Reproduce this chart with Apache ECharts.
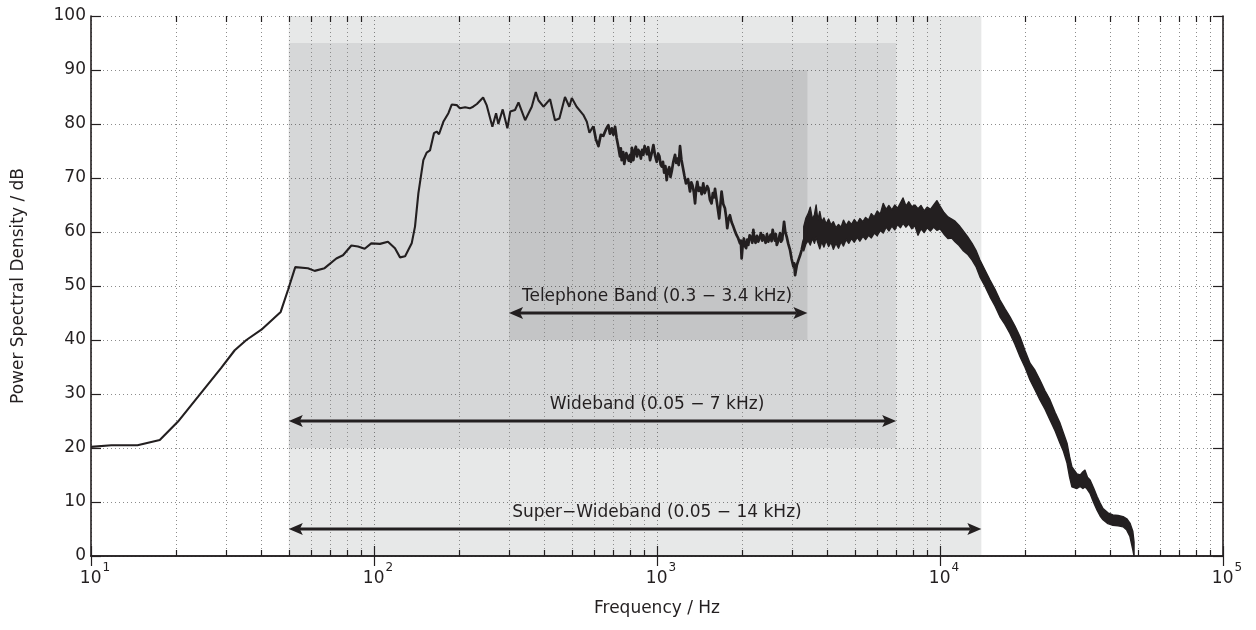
<!DOCTYPE html>
<html>
<head>
<meta charset="utf-8">
<script src="https://cdn.jsdelivr.net/npm/echarts@6/dist/echarts.min.js"></script>
<style>
  html, body { margin: 0; padding: 0; background: #ffffff; }
  #chart { width: 1256px; height: 630px; }
</style>
</head>
<body>
<div id="chart"></div>
<script>
// Speech power spectrum, [frequency Hz, level dB] (single trace up to ~3.4 kHz)
const psdCurve = [
  [10, 20.2], [11.8, 20.5], [14.6, 20.5], [17.5, 21.5], [20.3, 24.9], [23.9, 29.5],
  [28.8, 34.8], [32.2, 38.1], [35.4, 40.0], [40, 41.9], [46.8, 45.2], [49.7, 49.3],
  [52.7, 53.5], [58.4, 53.3], [61.7, 52.8], [66.9, 53.3], [73.6, 55.1], [77.7, 55.7],
  [83.2, 57.5], [87.8, 57.3], [92.7, 56.9], [97.8, 57.9], [105, 57.8], [112, 58.2],
  [118.6, 57.0], [123.6, 55.3], [128.8, 55.5], [135.9, 57.9], [139.6, 61.0], [143.5, 67.2],
  [149.4, 73.3], [153.5, 74.7], [157.7, 75.1], [162.9, 78.3], [166.5, 78.6], [169.7, 78.1],
  [175.8, 80.4], [183.2, 82.0], [188.2, 83.6], [196, 83.5], [201, 82.9], [210, 83.1],
  [218, 82.9], [224, 83.2], [231, 83.7], [243, 84.9], [250, 83.5], [262, 79.5],
  [270, 82.0], [275, 80.0], [285, 82.7], [296, 79.2], [303, 82.3], [315, 82.6],
  [324, 84.0], [342, 80.7], [361, 83.2], [373, 85.9], [381, 84.4], [397, 83.2],
  [419, 84.6], [436, 80.7], [452, 81.0], [473, 85.0], [490, 83.2], [500, 84.8],
  [520, 83.2], [549, 81.7], [565, 80.4], [577, 78.4], [596, 79.6],
  [608, 77.2], [621, 75.9], [633, 78.0], [646, 77.8], [660, 79.0], [673, 79.8],
  [682, 78.2], [692, 79.2], [701, 78.0], [711, 79.5], [720, 77.4], [730, 75.8],
  [740, 74.0], [745, 75.5], [750, 73.3], [760, 74.8], [766, 72.6], [771, 72.4],
  [779, 74.6], [787, 74.9], [795, 73.2], [803, 74.3], [809, 73.0], [815, 75.6],
  [825, 73.3], [833, 75.0], [842, 75.8], [850, 74.0], [859, 75.2], [868, 74.8],
  [877, 73.6], [886, 75.2], [895, 74.3], [904, 75.9], [913, 76.0], [922, 74.4],
  [931, 75.7], [945, 73.3], [958, 74.6], [971, 76.1], [984, 74.2], [998, 73.0],
  [1010, 74.5], [1020, 74.0], [1030, 72.5], [1040, 72.1], [1050, 73.0], [1060, 71.0],
  [1071, 72.2], [1082, 69.6], [1093, 71.4], [1105, 72.0], [1116, 70.2], [1127, 71.2],
  [1142, 73.0], [1158, 74.3], [1169, 72.8], [1180, 73.6], [1193, 72.4], [1206, 75.9],
  [1220, 73.4], [1233, 72.1], [1250, 70.4], [1266, 69.0], [1287, 69.8], [1308, 67.5],
  [1322, 69.2], [1335, 68.6], [1349, 67.4], [1363, 65.3], [1375, 68.0], [1388, 69.3],
  [1404, 67.6], [1420, 68.2], [1438, 67.0], [1457, 69.0], [1474, 67.2], [1490, 67.0],
  [1504, 68.5], [1518, 68.1], [1538, 66.0], [1559, 65.3], [1575, 67.2], [1590, 66.4],
  [1603, 68.0], [1615, 67.8], [1637, 64.6], [1659, 62.5], [1675, 65.0], [1691, 67.5],
  [1714, 65.2], [1738, 64.4], [1755, 62.8], [1771, 60.7], [1790, 62.4], [1810, 63.1],
  [1835, 61.8], [1861, 61.0], [1885, 60.2], [1911, 59.4], [1937, 58.8], [1964, 57.9],
  [1978, 58.4], [1991, 55.1], [2010, 57.8], [2028, 58.8], [2046, 57.4], [2065, 57.0],
  [2084, 58.6], [2102, 57.6], [2125, 59.4], [2150, 59.0], [2170, 58.0], [2190, 60.4],
  [2210, 58.6], [2230, 58.0], [2255, 59.3], [2280, 58.2], [2305, 59.0], [2330, 59.8],
  [2352, 58.4], [2375, 59.4], [2398, 58.7], [2420, 58.0], [2447, 59.6], [2474, 58.2],
  [2497, 58.9], [2520, 59.5], [2541, 58.3], [2563, 60.4], [2587, 59.2], [2610, 58.4],
  [2630, 59.6], [2650, 57.6], [2685, 58.4], [2722, 59.8], [2745, 58.2], [2770, 58.6],
  [2790, 60.2], [2812, 61.9], [2840, 60.0], [2873, 59.1], [2910, 57.8], [2951, 56.7],
  [2990, 55.0], [3033, 53.6], [3055, 54.2], [3076, 52.0], [3118, 53.8], [3160, 54.8],
  [3200, 55.6], [3246, 56.7], [3290, 58.2], [3336, 59.1], [3380, 60.8], [3426, 62.8]
];

// Dense high-frequency part as an envelope: [frequency Hz, lower dB, upper dB]
const hfBand = [
  [3300, 56.5, 61.0], [3360, 57.8, 62.6], [3420, 58.4, 63.4], [3480, 57.6, 64.6],
  [3540, 58.8, 62.4], [3600, 57.9, 63.2], [3650, 59.0, 65.0], [3700, 58.0, 62.2],
  [3760, 56.9, 63.8], [3820, 58.2, 61.9], [3890, 57.2, 62.6], [3960, 58.4, 61.5],
  [4040, 57.3, 62.4], [4120, 58.1, 61.3], [4200, 56.8, 61.9], [4290, 57.9, 60.8],
  [4380, 57.0, 61.4], [4470, 58.2, 60.9], [4560, 57.4, 62.2], [4660, 58.6, 61.2],
  [4760, 57.9, 62.0], [4870, 58.8, 61.4], [4980, 58.1, 62.3], [5100, 59.0, 61.6],
  [5210, 58.3, 62.5], [5340, 59.2, 61.9], [5460, 58.6, 62.7], [5590, 59.4, 62.2],
  [5720, 58.9, 63.4], [5860, 59.8, 62.8], [6000, 59.3, 63.9], [6150, 60.3, 63.3],
  [6300, 59.8, 65.3], [6450, 60.9, 64.2], [6600, 60.2, 64.9], [6760, 61.1, 64.1],
  [6920, 60.4, 65.0], [7080, 61.4, 64.4], [7250, 60.8, 65.4], [7400, 61.6, 66.3],
  [7580, 60.9, 64.8], [7760, 61.5, 65.6], [7950, 60.6, 64.7], [8150, 61.2, 65.0],
  [8360, 59.4, 64.3], [8570, 60.6, 64.9], [8790, 59.9, 63.9], [9010, 60.8, 64.6],
  [9250, 60.2, 64.2], [9500, 60.9, 65.0], [9750, 60.3, 65.8], [10000, 60.6, 64.8],
  [10330, 59.6, 63.6], [10670, 58.8, 62.8], [11000, 58.9, 62.4], [11300, 58.2, 62.0],
  [11680, 57.5, 61.2], [12050, 56.6, 60.3], [12500, 55.9, 59.2], [12980, 54.8, 57.9],
  [13400, 53.6, 56.6], [13840, 51.7, 54.8], [14400, 50.0, 53.0], [15020, 48.0, 51.1],
  [15640, 46.3, 49.4], [16290, 44.3, 47.4], [16960, 42.9, 45.8], [17670, 41.2, 44.3],
  [18400, 39.2, 42.6], [19180, 36.9, 40.6], [19980, 34.9, 38.0], [20800, 32.6, 35.7],
  [21650, 30.8, 34.4], [22550, 28.9, 32.6], [23500, 27.2, 30.6], [24470, 25.2, 28.9],
  [25500, 23.2, 26.6], [26550, 20.9, 24.6], [27300, 19.4, 22.8], [28110, 17.2, 20.9],
  [28700, 14.6, 18.4], [29250, 12.8, 16.5], [30470, 12.5, 15.2], [31300, 12.9, 15.0],
  [31990, 12.5, 15.6], [32530, 12.8, 15.9], [33200, 12.3, 14.6], [33880, 11.6, 14.1],
  [34900, 9.9, 12.6], [35890, 8.5, 11.0], [36800, 7.4, 9.8], [37670, 6.7, 8.8],
  [39200, 6.0, 8.0], [40830, 5.7, 7.6], [42600, 5.6, 7.5], [44360, 5.4, 7.3],
  [45700, 4.8, 6.9], [46900, 3.6, 6.1], [48000, 1.2, 4.6], [48490, 0, 2.6]
];

// Codec bandwidths
const bandNames = [
  'Super\u2212Wideband (0.05 \u2212 14 kHz)',
  'Wideband (0.05 \u2212 7 kHz)',
  'Telephone Band (0.3 \u2212 3.4 kHz)'
];
const bandStartHz = [50, 50, 300];
const bandEndHz = [14000, 7000, 3400];
const shadeBottomDb = [0, 20, 40];
const shadeTopDb = [100, 95, 90];
const arrowDb = [5, 25, 45];
const labelHz = 1000;

// Minor log ticks 2..9 within each decade
const minorHz = [];
for (let d = 10; d < 100000; d *= 10) {
  for (let m = 2; m <= 9; m++) minorHz.push(m * d);
}

const INK = '#231f20';
const FONT = '"DejaVu Sans", sans-serif';
const shadeFill = ['rgba(40,45,50,0.11)', 'rgba(40,40,42,0.085)', 'rgba(40,40,42,0.10)'];

const chart = echarts.init(document.getElementById('chart'), null, { renderer: 'canvas' });

function crisp(v) { return Math.round(v) + 0.5; }

// low-frequency part is drawn thinner than the noisy mid-band part
const psdLowPart = psdCurve.filter(function (p) { return p[0] <= 600; });
const psdMidPart = psdCurve.filter(function (p) { return p[0] >= 596; });

const option = {
  animation: false,
  backgroundColor: '#ffffff',
  grid: { left: 91, right: 33, top: 16, bottom: 74, containLabel: false },
  xAxis: [
    {
      type: 'log', logBase: 10, min: 10, max: 100000, position: 'bottom',
      axisLine: { show: true, lineStyle: { color: INK, width: 1.6 } },
      axisTick: { show: true, inside: true, length: 10, lineStyle: { color: INK, width: 1.2 } },
      axisLabel: {
        margin: 6,
        formatter: function (v) {
          return '{b|10}{s|' + Math.round(Math.log10(v)) + '}';
        },
        rich: {
          b: { fontSize: 17, lineHeight: 17, fontFamily: FONT, color: INK, padding: [0, 0, 0, 8] },
          s: { fontSize: 12, fontFamily: FONT, color: INK, verticalAlign: 'top', padding: [0, 0, 22, 1] }
        }
      },
      splitLine: { show: true, lineStyle: { color: '#8c8c8c', width: 1, type: [1, 3] } },
      name: 'Frequency / Hz', nameLocation: 'middle', nameGap: 44,
      nameTextStyle: { fontSize: 17, fontFamily: FONT, color: INK }
    },
    {
      type: 'log', logBase: 10, min: 10, max: 100000, position: 'top',
      axisLine: { show: true, lineStyle: { color: INK, width: 1.6 } },
      axisTick: { show: true, inside: true, length: 10, lineStyle: { color: INK, width: 1.2 } },
      axisLabel: { show: false },
      splitLine: { show: false }
    }
  ],
  yAxis: [
    {
      type: 'value', min: 0, max: 100, interval: 10, position: 'left',
      axisLine: { show: true, lineStyle: { color: INK, width: 1.6 } },
      axisTick: { show: true, inside: true, length: 10, lineStyle: { color: INK, width: 1.2 } },
      axisLabel: { fontSize: 17, fontFamily: FONT, color: INK, margin: 5 },
      splitLine: { show: true, lineStyle: { color: '#8c8c8c', width: 1, type: [1, 3] } },
      name: 'Power Spectral Density / dB', nameLocation: 'middle', nameGap: 64, nameRotate: 90,
      nameTextStyle: { fontSize: 17, fontFamily: FONT, color: INK }
    },
    {
      type: 'value', min: 0, max: 100, interval: 10, position: 'right',
      axisLine: { show: true, lineStyle: { color: INK, width: 1.6 } },
      axisTick: { show: true, inside: true, length: 10, lineStyle: { color: INK, width: 1.2 } },
      axisLabel: { show: false },
      splitLine: { show: false }
    }
  ],
  series: [
    {
      // shaded bandwidth regions
      type: 'custom', name: 'bands', xAxisIndex: 0, yAxisIndex: 0, z: 1, silent: true,
      data: bandStartHz.map(function (f, i) { return [f, shadeBottomDb[i]]; }),
      renderItem: function (params, api) {
        const i = params.dataIndex;
        const p0 = api.coord([bandStartHz[i], shadeTopDb[i]]);
        const p1 = api.coord([bandEndHz[i], shadeBottomDb[i]]);
        return {
          type: 'rect',
          shape: { x: p0[0], y: p0[1], width: p1[0] - p0[0], height: p1[1] - p0[1] },
          style: { fill: shadeFill[i] }
        };
      }
    },
    {
      // minor log grid lines and ticks
      type: 'custom', name: 'minorGrid', xAxisIndex: 0, yAxisIndex: 0, z: 2, silent: true,
      data: minorHz.map(function (f) { return [f, 0]; }),
      renderItem: function (params, api) {
        const f = minorHz[params.dataIndex];
        const b = api.coord([f, 0]);
        const t = api.coord([f, 100]);
        const x = crisp(b[0]);
        return {
          type: 'group',
          children: [
            { type: 'line', shape: { x1: x, y1: t[1], x2: x, y2: b[1] },
              style: { stroke: '#8c8c8c', lineWidth: 1, lineDash: [1, 3] } },
            { type: 'line', shape: { x1: x, y1: b[1], x2: x, y2: b[1] - 6 },
              style: { stroke: INK, lineWidth: 1.2 } },
            { type: 'line', shape: { x1: x, y1: t[1], x2: x, y2: t[1] + 6 },
              style: { stroke: INK, lineWidth: 1.2 } }
          ]
        };
      }
    },
    {
      type: 'line', name: 'PSD', xAxisIndex: 0, yAxisIndex: 0, z: 3,
      data: psdLowPart, showSymbol: false, symbol: 'none', smooth: false,
      lineStyle: { color: INK, width: 2.1 }
    },
    {
      type: 'line', name: 'PSD-mid', xAxisIndex: 0, yAxisIndex: 0, z: 3,
      data: psdMidPart, showSymbol: false, symbol: 'none', smooth: false,
      lineStyle: { color: INK, width: 2.7, join: 'round' }
    },
    {
      // dense high-frequency envelope
      type: 'custom', name: 'PSD-HF', xAxisIndex: 0, yAxisIndex: 0, z: 3, silent: true,
      data: [[hfBand[0][0], hfBand[0][1]]],
      renderItem: function (params, api) {
        const pts = [];
        for (let k = 0; k < hfBand.length; k++) pts.push(api.coord([hfBand[k][0], hfBand[k][2]]));
        for (let k = hfBand.length - 1; k >= 0; k--) pts.push(api.coord([hfBand[k][0], hfBand[k][1]]));
        return {
          type: 'polygon', shape: { points: pts },
          style: { fill: INK, stroke: INK, lineWidth: 1.4, lineJoin: 'round' }
        };
      }
    },
    {
      // double-headed arrows spanning each band
      type: 'custom', name: 'arrows', xAxisIndex: 0, yAxisIndex: 0, z: 4, silent: true,
      data: bandStartHz.map(function (f, i) { return [f, arrowDb[i]]; }),
      renderItem: function (params, api) {
        const i = params.dataIndex;
        const a = api.coord([bandStartHz[i], arrowDb[i]]);
        const b = api.coord([bandEndHz[i], arrowDb[i]]);
        const y = Math.round(a[1]);
        const L = 14, H = 6;
        return {
          type: 'group',
          children: [
            { type: 'line', shape: { x1: a[0] + L - 3, y1: y, x2: b[0] - L + 3, y2: y },
              style: { stroke: INK, lineWidth: 3.2 } },
            { type: 'polygon', shape: { points: [[a[0], y], [a[0] + L, y - H], [a[0] + L - 3, y], [a[0] + L, y + H]] },
              style: { fill: INK } },
            { type: 'polygon', shape: { points: [[b[0], y], [b[0] - L, y - H], [b[0] - L + 3, y], [b[0] - L, y + H]] },
              style: { fill: INK } }
          ]
        };
      }
    },
    {
      // band captions
      type: 'custom', name: 'captions', xAxisIndex: 0, yAxisIndex: 0, z: 5, silent: true,
      data: bandNames.map(function (n, i) { return [labelHz, arrowDb[i]]; }),
      renderItem: function (params, api) {
        const i = params.dataIndex;
        const p = api.coord([labelHz, arrowDb[i]]);
        return {
          type: 'text', x: p[0], y: p[1] - 16,
          style: { text: bandNames[i], fill: INK, font: '17px ' + FONT, align: 'center', verticalAlign: 'middle' }
        };
      }
    }
  ]
};

chart.setOption(option);
</script>
</body>
</html>
